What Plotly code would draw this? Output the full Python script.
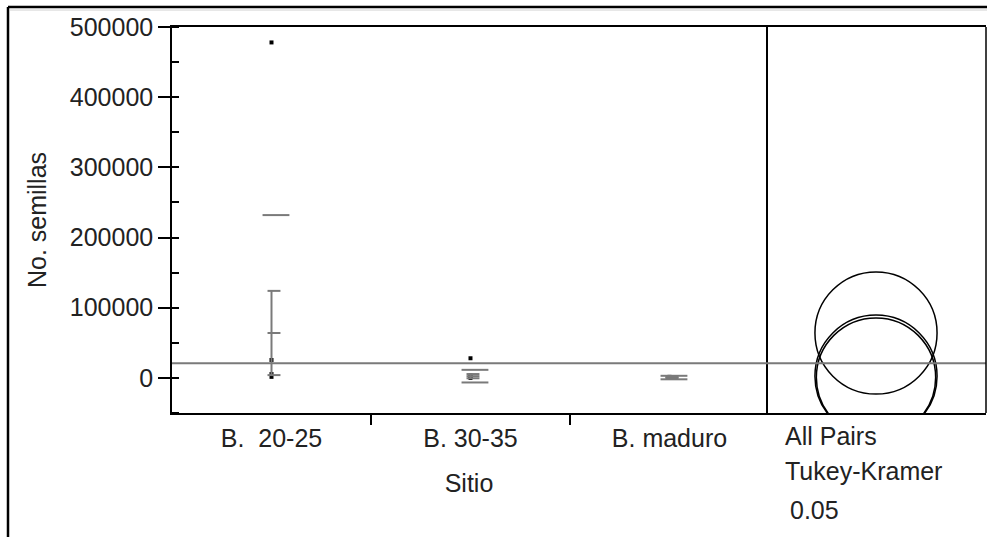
import plotly.graph_objects as go

# ---- data ----
categories = ["B.  20-25", "B. 30-35", "B. maduro"]
points_b2025 = [478000, 25500, 5500, 1500]
points_b3035 = [28000, 3500, 1500, 0]
points_bmaduro = [1500, 300]
group_means = [64000, 2500, 500]
ci_half_width = [60000, 3000, 1000]
std_dev = [168000, 9000, 2500]
circle_radius = [87000, 87000, 85000]
grand_mean = 20800
y_ticks = [0, 100000, 200000, 300000, 400000, 500000]
y_range = [-50000, 500000]
side_labels = ["All Pairs", "Tukey-Kramer", "0.05"]

W, H = 987, 537
FONT = "Liberation Sans, Arial, sans-serif"
TXT = "#222222"
GRAY = "#7a7a7a"

def px(x):
    return x / W

def py(y):
    return 1 - y / H

x_dom = [px(172), px(766)]
x2_dom = [px(766), px(986)]
y_dom = [py(413), py(27)]
x_range = [-0.5, 2.485]
units_per_px = (y_range[1] - y_range[0]) / (413 - 27)
half_w2 = (986 - 766) / 2 * units_per_px

fig = go.Figure()

# points
all_points = [points_b2025, points_b3035, points_bmaduro]
xs, ys = [], []
for i, pts in enumerate(all_points):
    xs += [i] * len(pts)
    ys += pts
fig.add_trace(go.Scatter(x=xs, y=ys, mode="markers",
                         marker=dict(symbol="square", size=4, color="black"),
                         xaxis="x", yaxis="y", showlegend=False, hoverinfo="y"))

# error bars (mean +/- CI) and mean ticks, std dev lines
cap_l, cap_r = -0.02, 0.045
sd_l, sd_r = -0.045, 0.09
ex, ey = [], []
sx, sy = [], []
for i, (m, c, s) in enumerate(zip(group_means, ci_half_width, std_dev)):
    lo, hi = m - c, m + c
    ex += [i, i, None]
    ey += [lo, hi, None]
    for v in (lo, m, hi):
        ex += [i + cap_l, i + cap_r, None]
        ey += [v, v, None]
    for v in (m - s, m + s):
        sx += [i + sd_l, i + sd_r, None]
        sy += [v, v, None]
fig.add_trace(go.Scatter(x=ex, y=ey, mode="lines", line=dict(color=GRAY, width=2),
                         xaxis="x", yaxis="y", showlegend=False, hoverinfo="skip"))
fig.add_trace(go.Scatter(x=sx, y=sy, mode="lines", line=dict(color=GRAY, width=2),
                         xaxis="x", yaxis="y", showlegend=False, hoverinfo="skip"))

# dummy trace on x2 to create subplot
fig.add_trace(go.Scatter(x=[0], y=[grand_mean], mode="markers", marker=dict(size=0, opacity=0),
                         xaxis="x2", yaxis="y", showlegend=False, hoverinfo="skip"))

shapes = []
# comparison circles
for m, r in zip(group_means, circle_radius):
    shapes.append(dict(type="circle", xref="x2", yref="y", x0=-r, x1=r, y0=m - r, y1=m + r,
                       line=dict(color="black", width=1.5), layer="above"))
# grand mean line across both panels
shapes.append(dict(type="line", xref="paper", yref="y", x0=px(172), x1=px(986),
                   y0=grand_mean, y1=grand_mean, line=dict(color=GRAY, width=2)))
# right edge of right panel
shapes.append(dict(type="line", xref="paper", yref="paper", x0=px(986), x1=px(986),
                   y0=y_dom[0], y1=y_dom[1], line=dict(color="black", width=1.5)))
# outer frame (top and left)
shapes.append(dict(type="line", xref="paper", yref="paper", x0=px(8), x1=1.0,
                   y0=py(7), y1=py(7), line=dict(color="black", width=2.5)))
shapes.append(dict(type="line", xref="paper", yref="paper", x0=px(8), x1=px(8),
                   y0=0, y1=py(7), line=dict(color="black", width=2.5)))
shapes.append(dict(type="line", xref="paper", yref="paper", x0=px(10), x1=1.0,
                   y0=py(10), y1=py(10), line=dict(color="#d0d0d0", width=1)))

annotations = []
side_y = [436, 471, 510]
side_x = [783, 783, 788]
for t, yy, xx in zip(side_labels, side_y, side_x):
    annotations.append(dict(text=t, xref="paper", yref="paper", x=px(xx), y=py(yy),
                            xanchor="left", yanchor="middle", showarrow=False,
                            font=dict(family=FONT, size=25, color=TXT)))

fig.update_layout(
    template="none",
    width=W, height=H,
    margin=dict(l=0, r=0, t=0, b=0, pad=0, autoexpand=False),
    paper_bgcolor="white", plot_bgcolor="white",
    showlegend=False,
    font=dict(family=FONT, size=25, color=TXT),
    xaxis=dict(domain=x_dom, range=x_range, anchor="y", automargin=False,
               tickvals=[0, 1, 2], ticktext=categories, ticks="",
               ticklabelstandoff=2,
               minor=dict(tickvals=[0.5, 1.5], ticks="outside", ticklen=10,
                          tickcolor="black", tickwidth=2),
               showline=True, linecolor="black", linewidth=1.5, mirror=True,
               showgrid=False, zeroline=False,
               title=dict(text="Sitio", standoff=24, font=dict(size=25, family=FONT, color=TXT)),
               tickfont=dict(size=25, family=FONT, color=TXT)),
    xaxis2=dict(domain=x2_dom, range=[-half_w2, half_w2], anchor="y", automargin=False,
                showticklabels=False, ticks="",
                showline=True, linecolor="black", linewidth=1.5, mirror=True,
                showgrid=False, zeroline=False),
    yaxis=dict(domain=y_dom, range=y_range, anchor="x", automargin=False,
               tickvals=y_ticks, ticktext=[str(v) for v in y_ticks],
               ticks="outside", ticklen=12, tickcolor="black", tickwidth=1.5,
               minor=dict(dtick=50000, tick0=0, ticks="inside", ticklen=7,
                          tickcolor="black", tickwidth=1.5, showgrid=False),
               showline=True, linecolor="black", linewidth=1.5, mirror=True,
               showgrid=False, zeroline=False,
               title=dict(text="No. semillas", standoff=16, font=dict(size=25, family=FONT, color=TXT)),
               tickfont=dict(size=25, family=FONT, color=TXT)),
    shapes=shapes,
    annotations=annotations,
)

fig.write_html("out.html", config={"displayModeBar": False},
               post_script="document.body.style.margin='0';document.body.style.overflow='hidden';")
